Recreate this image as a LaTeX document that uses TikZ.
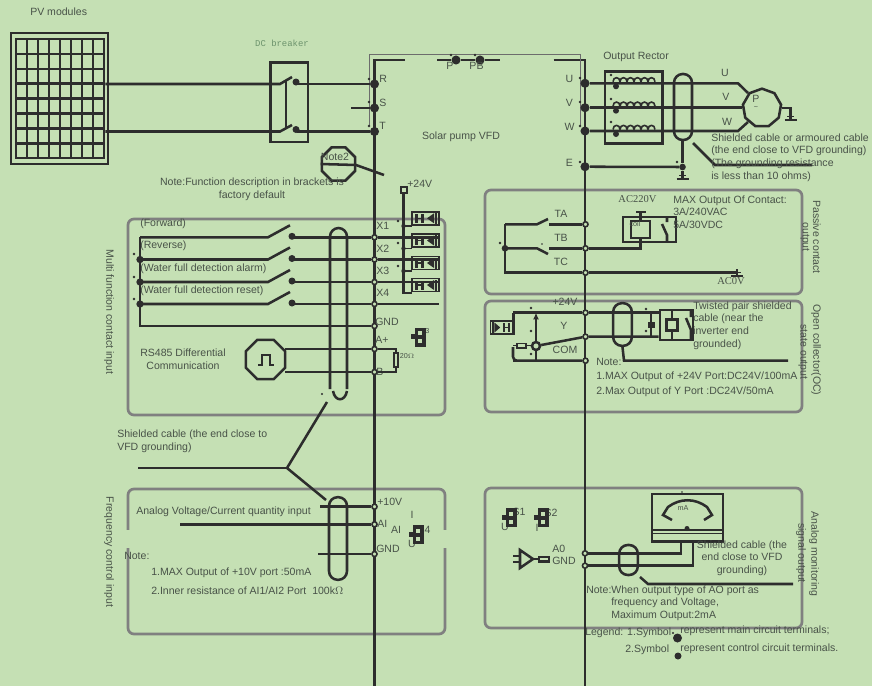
\documentclass[tikz,border=0pt]{standalone}
\usepackage{fontspec}
\setmainfont{Liberation Sans}
\newfontfamily\serifface{Liberation Serif}
\newfontfamily\monoface{Liberation Mono}
\usepackage{xcolor}
\usetikzlibrary{shapes.geometric,arrows.meta}
\definecolor{bgcol}{RGB}{197,224,180}
\definecolor{inkcol}{RGB}{45,45,45}
\definecolor{txtcol}{RGB}{72,82,72}
\definecolor{framecol}{RGB}{128,128,128}
\tikzset{
 every pic/.style={transform shape},
 wire/.style={draw=inkcol,line width=1.9pt},
 fineline/.style={draw=inkcol,line width=1.2pt},
 hairline/.style={draw=gray!85!black,line width=0.55pt},
 frame/.style={draw=framecol,line width=2pt,rounded corners=4.5pt},
 shield/.style={draw=inkcol,line width=1.9pt,rounded corners=6.5pt},
 mainpt/.style={circle,fill=inkcol,inner sep=0pt,minimum size=6.8pt},
 ctrlpt/.style={circle,draw=inkcol,fill=bgcol,line width=1.2pt,inner sep=0pt,minimum size=3.8pt},
 txt/.style={anchor=west,inner sep=0pt,text=txtcol,font=\fontsize{7.9}{9.5}\selectfont},
 txtc/.style={inner sep=0pt,text=txtcol,font=\fontsize{7.9}{9.5}\selectfont},
 txtr/.style={rotate=-90,inner sep=0pt,text=txtcol,font=\fontsize{7.9}{9.5}\selectfont},
 small/.style={inner sep=0pt,text=txtcol,font=\fontsize{5.4}{6}\selectfont},
 jumper/.pic={
  \fill[inkcol] (-5.5,-9.5) rectangle (5.5,9.5);
  \fill[inkcol] (-9,-2) rectangle (-5,3);
  \fill[bgcol] (-2.5,-6) rectangle (2,-2);
  \fill[bgcol] (-2.5,2) rectangle (2,6);
 },
 optobox/.pic={
  \draw[fineline] (0,0) rectangle (27,13);
  \fill[inkcol] (3,2) rectangle (6,11);
  \fill[inkcol] (9,2) rectangle (12,11);
  \draw[fineline] (3,6.5) -- (12,6.5);
  \fill[inkcol] (15,6.5) -- (22,1.5) -- (22,11.5) -- cycle;
  \draw[fineline] (24,1) -- (24,12);
 },
 gnd/.pic={
  \draw[wire] (-6,0) -- (6,0);
  \draw[fineline] (-3.5,3.5) -- (3.5,3.5);
  \draw[fineline] (0,0) -- (0,7);
 },
 coil/.pic={
  \fill[inkcol] (3,-3) circle (3);
  \foreach \k in {0,...,5}
   \draw[fineline] (\k*7,1.5) .. controls (\k*7,7) and (\k*7+7,7) .. (\k*7+7,1.5);
 }
}
\begin{document}
\begin{tikzpicture}[x=0.75pt,y=0.75pt,yscale=-1,xscale=1]

\fill[bgcol] (0,0) rectangle (872,686);
\useasboundingbox (0,0) rectangle (872,686);

% frames
\draw[frame] (128,219) rectangle (445,415);
\draw[frame] (485,190) rectangle (802,294);
\draw[frame] (485,301) rectangle (802,412);
\draw[frame] (485,488) rectangle (802,628);
\draw[frame] (128,530) -- (128,634) -- (445,634) -- (445,548);
\draw[frame] (128,530) -- (128,489) -- (445,489) -- (445,530);
\fill[bgcol] (124,530) rectangle (132,548);
\fill[bgcol] (441,530) rectangle (449,548);

% PV panel
\draw[wire] (11,33) rectangle (108,164);
\node[draw=inkcol,line width=1.9pt,inner sep=0pt,minimum width=66pt,minimum height=89pt] (pv) at (60,98.5) {};
\foreach \k in {1,...,7} {
 \draw[wire] (16+\k*11,39) -- (16+\k*11,158);
 \draw[wire] (16,39+\k*14.9) -- (104,39+\k*14.9);
}
\node[txt] (pvtxt) at (30,11.5) {PV modules};

% buses and terminals
\coordinate (ltop) at (374.5,60);
\coordinate (lend) at (374.5,686);
\coordinate (rtop) at (585,60);
\coordinate (rend) at (585,686);
\draw[wire] (405,60) -- (ltop) -- (lend);
\draw[wire] (553.5,60) -- (rtop) -- (rend);
\draw[hairline] (369,126) -- (369,54.5) -- (580,54.5) -- (580,126);
\foreach \n/\y in {R/84,S/108,T/131.5}
 \node[mainpt] (\n) at (374.5,\y) {};
\foreach \n/\y in {U/83.3,V/107.7,W/131,E/166.7}
 \node[mainpt] (\n) at (585,\y) {};
\node[mainpt] (P) at (456,60) {};
\node[mainpt] (PB) at (480,60) {};
\coordinate (plft) at (437,60);
\coordinate (prgt) at (500,60);
\draw[wire] (plft) -- (P) -- (PB) -- (prgt);
\coordinate (sstub) at (351,108);
\draw[wire] (sstub) -- (S);
\foreach \n/\x/\y in {R/379/79,S/379/103,T/379/126}
 \node[txt] (lab\n) at (\x,\y) {\n};
\node[txtc] (labP) at (450,66) {P};
\node[txtc] (labPB) at (476.5,66) {PB};
\foreach \n/\y in {U/79,V/103,W/127,E/163}
 \node[txtc] (lab\n) at (569.5,\y) {\n};
\fill[inkcol] (369,79) circle (1.4) (369,102) circle (1.4) (369,126) circle (1.4)
 (580,78) circle (1.4) (580,102) circle (1.4) (580,126) circle (1.4) (580,162) circle (1.4)
 (451,55) circle (1.4) (475,55) circle (1.4);

% DC breaker
\node[inner sep=0pt,text=gray!85!green,font=\monoface\fontsize{6.7}{8}\selectfont] (dctxt) at (282,43) {DC breaker};
\draw[wire] (270.5,62.5) rectangle (308,142);
\coordinate (swa) at (280,84);
\coordinate (swb) at (280,131.5);
\coordinate (swc) at (297,84);
\coordinate (swd) at (297,131.5);
\draw[wire] (pv.east |- swa) -- (swa) -- (292,77);
\draw[wire] (pv.east |- swb) -- (swb) -- (292,125);
\draw[wire] (swc) -- (R);
\draw[wire] (swd) -- (T);
\draw[wire] (286,80) -- (286,127);
\fill[inkcol] (296,82) circle (3.5) (296,129.5) circle (3.5);

% note 2
\node[regular polygon,regular polygon sides=8,draw=inkcol,line width=1.9pt,inner sep=0pt,minimum size=27pt] (notetwo) at (338.5,164) {};
\coordinate (noteend) at (384,175);
\draw[wire] (notetwo.west) -- (356,165) -- (noteend);
\node[txtc] (notetxt) at (335,156.5) {Note2};
\node[txtc,align=center] (fnnote) at (252,189.5) {Note:Function description in brackets is\\factory default};
\node[txtc] (vfd) at (461,137) {Solar pump VFD};

% output reactor and motor
\node[txt] (rectxt) at (603,57) {Output Rector};
\draw[wire] (605,71.7) rectangle (662.7,143.3);
\node[regular polygon,regular polygon sides=9,draw=inkcol,line width=1.9pt,inner sep=0pt,minimum size=29pt] (motor) at (762,108) {};
\coordinate (ua) at (738,83.3);
\coordinate (wa) at (738,131);
\draw[wire] (U) -- (ua) -- (748,93);
\draw[wire] (V) -- (motor.west |- V);
\draw[wire] (W) -- (wa) -- (748,122);
\foreach \y in {83.3,107.7,131}
 \pic at (613,\y) {coil};
\fill[inkcol] (611,75) circle (1.4) (611,99) circle (1.4) (611,122) circle (1.4) (677,162) circle (1.4);
\node[draw=inkcol,line width=1.9pt,rounded corners=6.5pt,inner sep=0pt,minimum width=13.5pt,minimum height=49.5pt] (shieldout) at (683,107) {};
\node[mainpt,minimum size=5pt] (eout) at (682.5,167) {};
\coordinate (egnd) at (682.5,179);
\draw[wire] (E) -- (eout);
\draw[wire] (shieldout.south -| eout) -- (eout) -- (egnd);
\pic at (682.5,179) {gnd};
\coordinate (mgnd) at (790.5,120);
\draw[wire] (motor.east) -- (790.5,108) -- (mgnd);
\pic at (790.5,120) {gnd};
\node[txtc] (labmu) at (725,73) {U};
\node[txtc] (labmv) at (726,97) {V};
\node[txtc] (labmw) at (727,122) {W};
\node[txtc] (labmp) at (756,99) {P};
\node[small] (labmt) at (756,108.5) {\textasciitilde};
\coordinate (leadout) at (812,165);
\draw[wire] (693,143) -- (715,165) -- (leadout);
\node[txt,align=left] (outnote) at (711,157.5) {Shielded cable or armoured cable\\(the end close to VFD grounding)\\(The grounding resistance\\is less than 10 ohms)};

% +24V and digital inputs
\node[draw=inkcol,line width=1.5pt,inner sep=0pt,minimum size=4.5pt] (vin) at (403.5,189.5) {};
\node[txt] (vintxt) at (407,184) {+24V};
\foreach \n/\y in {1/237.3,2/259.5,3/282,4/304} {
 \node[ctrlpt] (X\n) at (374.5,\y) {};
 \coordinate (xl\n) at (140,\y);
 \coordinate (xs\n) at (268,\y);
 \coordinate (xc\n) at (294,\y);
 \coordinate (xr\n) at (439,\y);
 \draw[wire] (xl\n) -- (xs\n) -- ++(22,-12);
 \draw[wire] (xc\n) -- (X\n) -- (xr\n);
 \fill[inkcol] (292,\y-1) circle (3.5);
 \pic at (412,\y-12.5) {optobox};
 \node[txt] (labx\n) at (376,\y-11) {X\n};
}
\node[ctrlpt] (gndx) at (374.5,326) {};
\coordinate (xlg) at (140,326);
\draw[wire] (xl1) -- (xlg) -- (gndx);
\foreach \n in {2,3,4}
 \node[mainpt,minimum size=5.5pt] (xd\n) at (xl\n) {};
\coordinate (vbot) at (403.5,293);
\draw[wire] (vin) -- (vbot) -- (412,293);
\draw[fineline] (403.5,226) -- (412,226) (403.5,248.5) -- (412,248.5) (403.5,271) -- (412,271);
\fill[inkcol] (403.5,226) circle (2.2) (403.5,248.5) circle (2.2) (403.5,271) circle (2.2)
 (398,221) circle (1.4) (398,243) circle (1.4) (398,266) circle (1.4)
 (134,254) circle (1.4) (134,277) circle (1.4) (134,299) circle (1.4);
\node[txt] (fwd) at (140,224) {(Forward)};
\node[txt] (rev) at (140,246) {(Reverse)};
\node[txt] (wfa) at (140,269) {(Water full detection alarm)};
\node[txt] (wfr) at (140,291) {(Water full detection reset)};
\node[txt] (labg) at (375,322) {GND};
\node[txt] (laba) at (375,340) {A+};
\node[txt] (labb) at (376,372) {B-};

% RS485
\node[regular polygon,regular polygon sides=8,draw=inkcol,line width=1.9pt,inner sep=0pt,minimum size=32pt] (pulse) at (265.5,359.5) {};
\draw[wire] (258,365) -- (262,365) -- (262,355) -- (270,355) -- (270,365) -- (274,365);
\node[ctrlpt] (Aplus) at (374.5,349) {};
\node[ctrlpt] (Bminus) at (374.5,372) {};
\coordinate (ra) at (396,349);
\coordinate (rb) at (396,372);
\draw[wire] (285,349) -- (Aplus) -- (ra) -- (rb) -- (Bminus) -- (285,372);
\draw[fineline,fill=bgcol] (394,353) rectangle (398,367);
\node[small] (rtxt) at (407,356) {20$\Omega$};
\node[txtc,align=center] (rstxt) at (183,359.5) {RS485 Differential\\Communication};
\node[small] (s3txt) at (425,331) {S3};
\pic at (420,337) {jumper};

% input shield and leader
\draw[shield] (330,389) -- (330,228) -- (347,228) -- (347,389);
\draw[wire] (333,391) .. controls (335,402) and (345,402) .. (347,391);
\coordinate (lead) at (287,468);
\coordinate (leada) at (327,402);
\coordinate (leadb) at (326,500);
\coordinate (leadc) at (138,468);
\draw[wire] (leada) -- (lead) -- (leadb);
\draw[wire] (leadc) -- (lead);
\fill[inkcol] (322,394) circle (1.1);
\node[txt,align=left] (shtxt) at (117,441.5) {Shielded cable (the end close to\\VFD grounding)};

% relay output
\foreach \n/\y in {TA/224.3,TB/248.3,TC/272.7} {
 \node[ctrlpt] (\n) at (585.5,\y) {};
 \coordinate (\n l) at (505,\y);
}
\node[txtc] (labta) at (561,214) {TA};
\node[txtc] (labtb) at (561,238) {TB};
\node[txtc] (labtc) at (561,262) {TC};
\draw[wire] (TAl) -- (537,224.3) -- (548,219);
\draw[wire] (549,224.3) -- (TA);
\draw[wire] (TBl) -- (537,248.3) -- (548,254);
\draw[wire] (549,248.3) -- (TB);
\draw[wire] (TAl) -- (TCl) -- (TC);
\coordinate (acz) at (737,277);
\draw[wire] (TC) -- (737,272.7) -- (acz);
\pic at (737,276) {gnd};
\node[mainpt,minimum size=5pt] (tbd) at (TBl) {};
\fill[inkcol] (500,243) circle (1.4) (542,244) circle (0.9);
\node[draw=inkcol,line width=1.9pt,inner sep=0pt,minimum width=40pt,minimum height=19pt] (relaya) at (649.5,229.5) {};
\node[draw=inkcol,line width=1.9pt,fill=bgcol,inner sep=0pt,minimum width=14pt,minimum height=13pt] (coila) at (640.5,229.5) {};
\coordinate (coilt) at (640.5,212);
\coordinate (coilb) at (640.5,248.3);
\draw[wire] (coila) -- (coilt);
\draw[wire] (636,212) -- (645.5,212);
\draw[wire] (TB) -- (coilb) -- (coila);
\draw[wire] (667,217) -- (667,222) (662,224) -- (667,235) -- (667,242);
\node[small] (coiltxt) at (635,224) {coil};
\node[inner sep=0pt,text=txtcol,font=\serifface\fontsize{7.9}{9.5}\selectfont] (actxt) at (637.5,199) {AC220V};
\node[inner sep=0pt,text=txtcol,font=\serifface\fontsize{7.9}{9.5}\selectfont] (aczero) at (731,281) {AC0V};
\node[txt,align=left] (maxtxt) at (673,212) {MAX Output Of Contact:\\3A/240VAC\\5A/30VDC};

% open collector output
\foreach \n/\y in {p/312.7,y/336.7,c/360.7}
 \node[ctrlpt] (oc\n) at (585.5,\y) {};
\node[txtc] (labop) at (565,302) {+24V};
\node[txtc] (laboy) at (564,326) {Y};
\node[txtc] (laboc) at (565,350) {COM};
\coordinate (opl) at (513.3,312.7);
\coordinate (ocl) at (517,360.7);
\coordinate (ovt) at (536,312.7);
\coordinate (ovb) at (536,360.7);
\node[draw=inkcol,line width=1.9pt,inner sep=0pt,minimum width=25pt,minimum height=22.5pt] (relayb) at (676.5,325) {};
\node[circle,draw=inkcol,line width=1.9pt,fill=bgcol,inner sep=0pt,minimum size=6pt] (trans) at (536,346) {};
\draw[wire] (opl) -- (513.3,335);
\draw[wire] (opl) -- (ocp) -- (relayb.west |- ocp);
\draw[wire] (trans) -- (ocy) -- (relayb.west |- ocy);
\draw[wire,rounded corners=3pt] (513,347) -- (513,360.7) -- (ocl) -- (occ);
\draw[wire,-{Latex[length=5pt,width=4.5pt]}] (trans) -- (ovt);
\draw[wire] (trans) -- (ovb);
\draw[fineline] (513,345.5) -- (531,345.5);
\draw[fineline,fill=bgcol] (517,343.5) rectangle (526,348);
\pic[xscale=-0.82] at (512.5,334) {optobox};
\draw[wire] (651,312.7) -- (651,336.7);
\fill[inkcol] (647.5,322) rectangle (654.5,328);
\node[draw=inkcol,line width=1.9pt,fill=bgcol,inner sep=0pt,minimum size=8.5pt] (coilb) at (672,325) {};
\draw[wire] (672,310) -- (coilb) -- (672,340);
\draw[wire] (691,310) -- (691,317) (686,318) -- (691,330) -- (691,340);
\fill[inkcol] (531,308) circle (1.3) (531,331) circle (1.3) (531,354) circle (1.3)
 (646,309) circle (1.3) (646,331) circle (1.3);
\node[draw=inkcol,line width=1.9pt,rounded corners=6.5pt,inner sep=0pt,minimum width=14pt,minimum height=32pt] (shieldoc) at (622.5,324.5) {};
\coordinate (ocg) at (624,360.7);
\coordinate (ocge) at (788,360.7);
\draw[wire] (shieldoc.south) -- (ocg) -- (ocge);
\node[txt,align=left] (twtxt) at (693,325.5) {Twisted pair shielded\\cable (near the\\inverter end\\grounded)};
\node[txt] (ocnote) at (596,362) {Note:};
\node[txt] (ocone) at (596,377) {1.MAX Output of +24V Port:DC24V/100mA};
\node[txt] (octwo) at (596,392) {2.Max Output of Y Port :DC24V/50mA};

% frequency input
\foreach \n/\y in {ten/506.7,ai/524.3,gn/554}
 \node[ctrlpt] (f\n) at (374.5,\y) {};
\coordinate (fl1) at (320,506.7);
\coordinate (fl2) at (180,524.3);
\coordinate (fl3) at (318,554);
\draw[wire] (fl1) -- (ften);
\draw[wire] (fl2) -- (fai);
\draw[wire] (fl3) -- (fgn);
\node[draw=inkcol,line width=1.9pt,rounded corners=6.5pt,inner sep=0pt,minimum width=13.5pt,minimum height=62pt] (shieldf) at (338,538.5) {};
\node[txt] (labten) at (377,502) {+10V};
\node[txt] (labai) at (377,524) {AI};
\node[txt] (labgn) at (376,549) {GND};
\node[txtc] (labi) at (412,515) {I};
\node[txtc] (labfa) at (396,530) {AI};
\node[txtc] (labuu) at (412,544) {U};
\node[txtc] (labs4) at (424,530) {S4};
\pic at (418,534.5) {jumper};
\node[txt] (anatxt) at (136,512) {Analog Voltage/Current quantity input};
\node[txt] (fnote) at (124,556) {Note:};
\node[txt] (fone) at (151,573) {1.MAX Output of +10V port :50mA};
\node[txt] (ftwo) at (151,591) {2.Inner resistance of AI1/AI2 Port\ \ 100k$\Omega$};

% analog output
\node[txtc] (labs1) at (519,512) {S1};
\node[txtc] (labs2) at (551,513) {S2};
\node[txtc] (labu1) at (505,527) {U};
\node[txtc] (labi2) at (537,528) {I};
\pic at (511,517.5) {jumper};
\pic at (543,517.5) {jumper};
\draw[wire] (520,550) -- (520,568) -- (533,559) -- cycle;
\draw[wire] (513,556) -- (520,556) (513,562) -- (520,562) (533,559) -- (539,559);
\draw[wire,fill=bgcol] (539,557) rectangle (549,561.5);
\node[txt] (labao) at (552,549) {A0};
\node[txt] (labag) at (552,561) {GND};
\node[ctrlpt] (ao) at (585,553.3) {};
\node[ctrlpt] (ag) at (585,565.7) {};
\node[draw=inkcol,line width=1.9pt,inner sep=0pt,minimum width=53pt,minimum height=35.7pt] (meter) at (687.5,517.8) {};
\coordinate (ma) at (681,553.3);
\coordinate (mb) at (693,565.7);
\draw[wire] (ao) -- (ma) -- (ma |- meter.south);
\draw[wire] (ag) -- (mb) -- (mb |- meter.south);
\draw[wire] (652,530) -- (723,530);
\draw[fineline] (652,533.5) -- (723,533.5);
\draw[wire] (672,520) -- (663,515) -- (668,507) .. controls (680,498) and (695,498) .. (707,507) -- (712,515) -- (704,520);
\fill[inkcol] (687,528.5) circle (2.5) (682,492) circle (0.9);
\node[small] (matxt) at (683,508) {mA};
\node[draw=inkcol,line width=1.9pt,rounded corners=6.5pt,inner sep=0pt,minimum width=14pt,minimum height=22.5pt] (shielda) at (628.5,560) {};
\coordinate (leadd) at (793,584);
\draw[wire] (640,577) -- (648,584) -- (leadd);
\node[txtc,align=center] (shatxt) at (742,558) {Shielded cable (the\\end close to VFD\\grounding)};
\node[txt] (anote) at (586,591) {Note:When output type of AO port as};
\node[txt,align=left] (anotb) at (611,609.5) {frequency and Voltage,\\Maximum Output:2mA};

% legend
\node[txt] (legone) at (585,632.5) {Legend: 1.Symbol};
\node[txt] (legtwo) at (625,650) {2.Symbol};
\node[txt] (legmain) at (680,631) {represent main circuit terminals;};
\node[txt] (legctrl) at (680,649) {represent control circuit terminals.};
\fill[inkcol] (673,633) circle (1.2) (677.5,638) circle (4.5) (678,656) circle (3.5);

% side titles
\node[txtr] (sidea) at (109,312) {Multi function contact input};
\node[txtr] (sideb) at (109,552) {Frequency control input};
\node[txtr] (sidec) at (817,237) {Passive contact};
\node[txtr] (sided) at (805,237) {output};
\node[txtr] (sidee) at (816,350) {Open collector(OC)};
\node[txtr] (sidef) at (803,352) {state output};
\node[txtr] (sideg) at (814,554) {Analog monitoring};
\node[txtr] (sideh) at (801,553) {signal output};

\end{tikzpicture}
\end{document}
